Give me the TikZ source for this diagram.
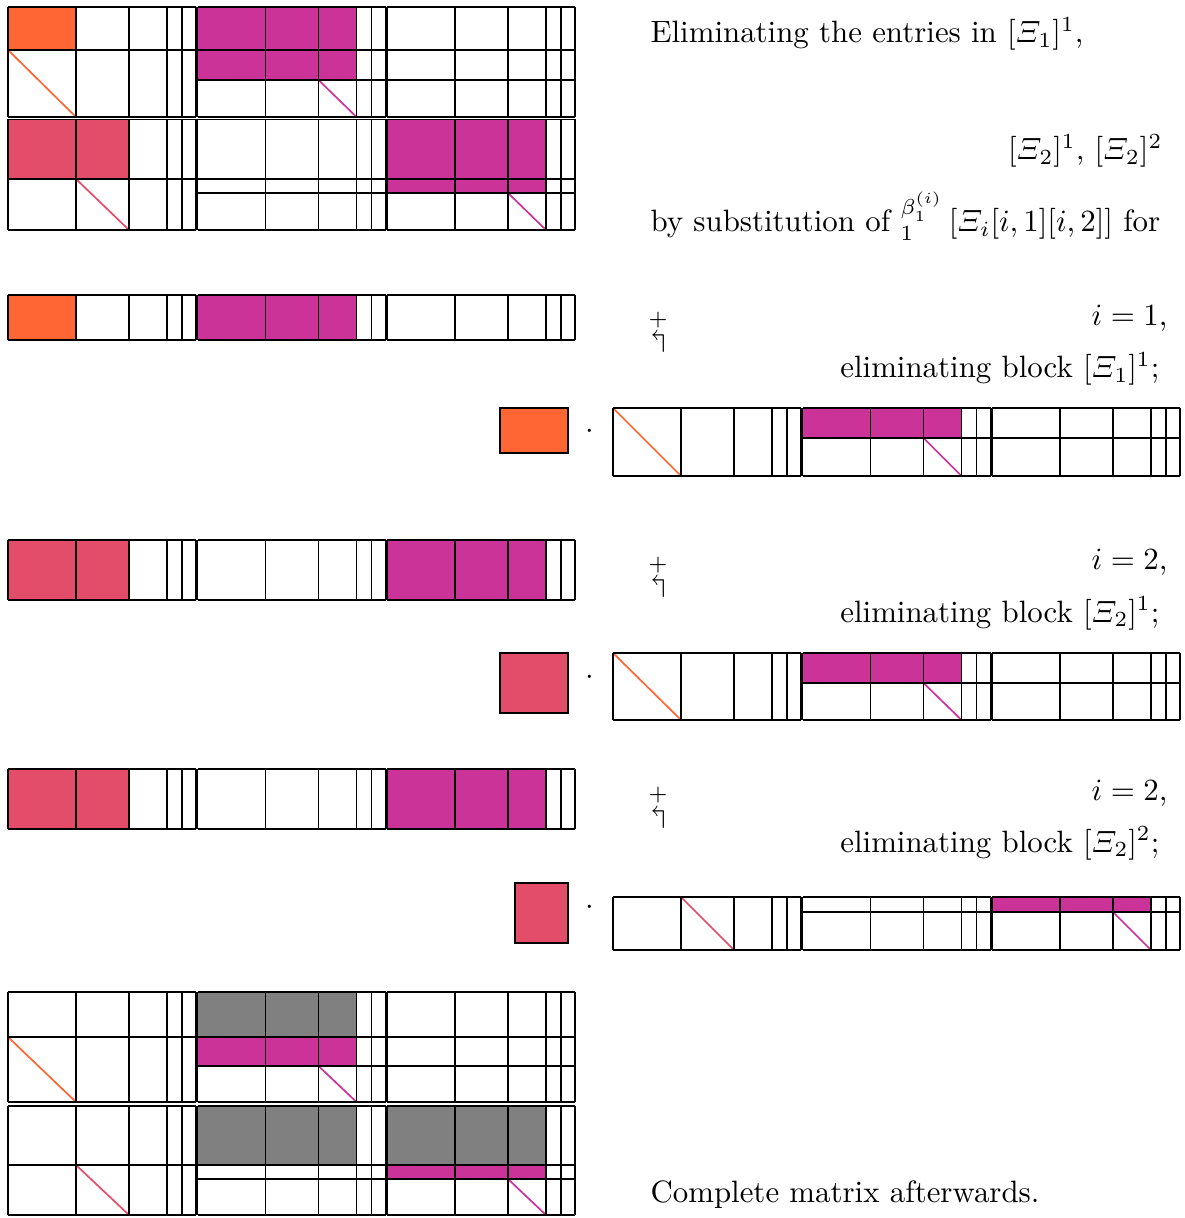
\documentclass[tikz,border=0pt]{standalone}
\usepackage{amsmath,amssymb}
\usepackage{tikz}
\usetikzlibrary{positioning}
\definecolor{elorange}{HTML}{FF6633}
\definecolor{elred}{HTML}{E34D69}
\definecolor{elmagenta}{HTML}{CC3399}
\definecolor{elgray}{HTML}{808080}

% one row of the block matrix: left x, top y, bottom y
\newcommand{\blkrow}[3]{%
  \foreach \b in {0,189.5,379}{
    \foreach \c in {0,68,121,159,174,188}
      \draw[grid] (#1+\b+\c,#2) -- (#1+\b+\c,#3);
    \draw[grid] (#1+\b,#2) -- (#1+\b+188,#2) (#1+\b,#3) -- (#1+\b+188,#3);
  }}

\begin{document}
\begin{tikzpicture}[
  x=0.324pt, y=-0.324pt,
  grid/.style={draw=black, line width=0.5pt},
  diag/.style={line width=0.55pt},
  txt/.style={inner sep=0pt, font=\normalsize},
  lbox/.style={draw=black, line width=0.55pt}
]
\useasboundingbox (0,0) rectangle (1184,1218);

% full matrix before
\fill[elorange] (8,7) rectangle (76,50);
\fill[elmagenta] (197.5,7) rectangle (356.5,80);
\fill[elred] (8,119.5) rectangle (129,179);
\fill[elmagenta] (387,119.5) rectangle (546,193);
\draw[diag, elorange] (8,50) -- (76,117);
\draw[diag, elmagenta] (318.5,80) -- (356.5,117);
\draw[diag, elred] (76,179) -- (129,230);
\draw[diag, elmagenta] (508,193) -- (546,230);
\blkrow{8}{7}{117}
\blkrow{8}{119.5}{230}
\draw[grid] (8,50) -- (575,50) (197.5,80) -- (575,80);
\draw[grid] (8,179) -- (575,179) (197.5,193) -- (575,193);

% i = 1
\fill[elorange] (8,295) rectangle (76,340);
\fill[elmagenta] (197.5,295) rectangle (356.5,340);
\blkrow{8}{295}{340}
\draw[lbox, fill=elorange] (500,408) rectangle (568,453);
\fill[elmagenta] (802.5,408) rectangle (961.5,438);
\draw[diag, elorange] (613,408) -- (681,476);
\draw[diag, elmagenta] (923.5,438) -- (961.5,476);
\blkrow{613}{408}{476}
\draw[grid] (802.5,438) -- (1180,438);

% i = 2, first block
\fill[elred] (8,540) rectangle (129,600);
\fill[elmagenta] (387,540) rectangle (546,600);
\blkrow{8}{540}{600}
\draw[lbox, fill=elred] (500,653) rectangle (568,713);
\fill[elmagenta] (802.5,653) rectangle (961.5,683);
\draw[diag, elorange] (613,653) -- (681,720);
\draw[diag, elmagenta] (923.5,683) -- (961.5,720);
\blkrow{613}{653}{720}
\draw[grid] (802.5,683) -- (1180,683);

% i = 2, second block
\fill[elred] (8,769) rectangle (129,829);
\fill[elmagenta] (387,769) rectangle (546,829);
\blkrow{8}{769}{829}
\draw[lbox, fill=elred] (515,883) rectangle (568,943);
\fill[elmagenta] (992,897) rectangle (1151,912);
\draw[diag, elred] (681,897) -- (734,950);
\draw[diag, elmagenta] (1113,912) -- (1151,950);
\blkrow{613}{897}{950}
\draw[grid] (802.5,912) -- (1180,912);

% full matrix after
\fill[elgray] (197.5,992) rectangle (356.5,1037);
\fill[elmagenta] (197.5,1037) rectangle (356.5,1066);
\fill[elgray] (197.5,1106) rectangle (356.5,1165);
\fill[elgray] (387,1106) rectangle (546,1165);
\fill[elmagenta] (387,1165) rectangle (546,1179);
\draw[diag, elorange] (8,1037) -- (76,1102);
\draw[diag, elmagenta] (318.5,1066) -- (356.5,1102);
\draw[diag, elred] (76,1165) -- (129,1215);
\draw[diag, elmagenta] (508,1179) -- (546,1215);
\blkrow{8}{992}{1102}
\blkrow{8}{1106}{1215}
\draw[grid] (8,1037) -- (575,1037) (197.5,1066) -- (575,1066);
\draw[grid] (8,1165) -- (575,1165) (197.5,1179) -- (575,1179);

% texts
\node[txt, anchor=base west] (intro) at (650,43) {Eliminating the entries in $[\varXi_1]^1$,};
\node[txt, anchor=base east] (others) at (1163,160) {$[\varXi_2]^1$, $[\varXi_2]^2$};
\node[txt, anchor=base west] (subst) at (650,232) {by substitution of ${}_1^{\beta_1^{(i)}}\,[\varXi_i[i,1][i,2]]$ for};

\node[txt] (add1) at (658,331) {$\overset{+}{\Lsh}$};
\node[txt, anchor=base east] (ione) at (1168,326) {$i=1$,};
\node[txt, anchor=base east] (elone) at (1160,378) {eliminating block $[\varXi_1]^1$;};
\node[txt] (dotone) at (590,432) {$\cdot$};

\node[txt] (add2) at (658,576) {$\overset{+}{\Lsh}$};
\node[txt, anchor=base east] (itwo) at (1168,570) {$i=2$,};
\node[txt, anchor=base east] (eltwo) at (1160,622) {eliminating block $[\varXi_2]^1$;};
\node[txt] (dottwo) at (590,678) {$\cdot$};

\node[txt] (add3) at (658,806) {$\overset{+}{\Lsh}$};
\node[txt, anchor=base east] (ithree) at (1168,800) {$i=2$,};
\node[txt, anchor=base east] (elthree) at (1160,852) {eliminating block $[\varXi_2]^2$;};
\node[txt] (dotthree) at (590,908) {$\cdot$};

\node[txt, anchor=base west] (after) at (650,1202) {Complete matrix afterwards.};
\end{tikzpicture}
\end{document}
